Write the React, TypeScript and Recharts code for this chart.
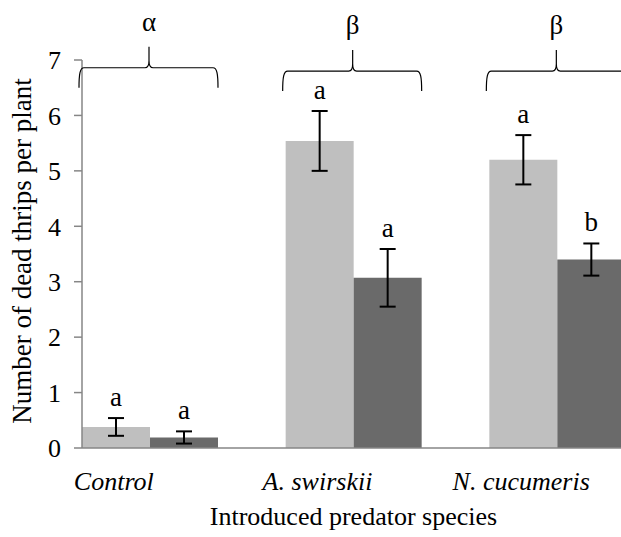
import React from 'react';
import { BarChart, Bar, XAxis, YAxis, ErrorBar, LabelList, Label } from 'recharts';

const CATEGORIES = ['Control', 'A. swirskii', 'N. cucumeris'];
const LIGHT = [0.38, 5.54, 5.2];
const LIGHT_ERR = [0.16, 0.54, 0.445];
const DARK = [0.19, 3.07, 3.4];
const DARK_ERR = [0.11, 0.52, 0.29];
const LIGHT_LETTERS = ['a', 'a', 'a'];
const DARK_LETTERS = ['a', 'a', 'b'];
const GROUP_LETTERS = ['α', 'β', 'β'];
const GROUP_LEVEL = [6.86, 6.8, 6.8];
const Y_TICKS = [0, 1, 2, 3, 4, 5, 6, 7];

const data = CATEGORIES.map((name, i) => ({
  name,
  light: LIGHT[i],
  lightErr: LIGHT_ERR[i],
  dark: DARK[i],
  darkErr: DARK_ERR[i],
}));

const FONT = 'Liberation Serif';
const AXIS_GRAY = '#868686';

function box(props: any) {
  const vb = props.viewBox || props;
  return { x: Number(vb.x), y: Number(vb.y), width: Number(vb.width), height: Number(vb.height) };
}

// significance letter above each error bar
const letterLabel = (values: number[], errs: number[], letters: string[]) => (props: any) => {
  const { x, y, width, height } = box(props);
  const i = props.index;
  const base = y + height;
  const ppu = height / values[i];
  const errTop = base - (values[i] + errs[i]) * ppu;
  return (
    <text key={`l-${i}`} x={x + width / 2} y={errTop - 12} textAnchor="middle" style={{ fontSize: 27, fontFamily: FONT }} fill="#000">
      {letters[i]}
    </text>
  );
};

// curly bracket spanning both bars of a group, drawn from the dark bar
const bracketLabel = (props: any) => {
  const { x, y, width, height } = box(props);
  const i = props.index;
  const base = y + height;
  const ppu = height / DARK[i];
  const yH = base - GROUP_LEVEL[i] * ppu;
  const L = x - width - 3;
  const R = x + width;
  const C = x - 1;
  const d =
    `M${L},${yH + 20} C${L},${yH + 6} ${L + 1},${yH} ${L + 5},${yH} L${C - 4},${yH} ` +
    `Q${C},${yH} ${C},${yH - 7} L${C},${yH - 21} M${C},${yH - 7} Q${C},${yH} ${C + 4},${yH} ` +
    `L${R - 5},${yH} C${R - 1},${yH} ${R},${yH + 6} ${R},${yH + 20}`;
  return (
    <g key={`b-${i}`}>
      <path d={d} fill="none" stroke="#000" strokeWidth={1.2} />
      <text x={C} y={yH - 37} textAnchor="middle" style={{ fontSize: 27, fontFamily: FONT }} fill="#000">
        {GROUP_LETTERS[i]}
      </text>
    </g>
  );
};

const CatTick = (props: any) => {
  const { x, y, payload } = props;
  return (
    <text x={x - 36} y={y + 42} textAnchor="middle" style={{ fontSize: 26, fontStyle: 'italic', fontFamily: FONT }} fill="#000">
      {payload.value}
    </text>
  );
};

export default function App() {
  return (
    <div style={{ position: 'absolute', left: 0, top: 0, width: 621, height: 537, overflow: 'hidden', background: '#fff', fontFamily: FONT }}>
      <BarChart
        width={659}
        height={537}
        data={data}
        margin={{ top: 60, right: 0, bottom: 0, left: 0 }}
        barCategoryGap={34}
        barGap={0}
        style={{ fontFamily: FONT }}
      >
        <XAxis
          dataKey="name"
          height={89}
          padding={{ left: -34, right: 0 }}
          axisLine={{ stroke: AXIS_GRAY, strokeWidth: 1.5 }}
          tickLine={false}
          tickSize={0}
          tickMargin={0}
          tick={<CatTick />}
          interval={0}
        >
          <Label
            content={(p: any) => {
              const vb = p.viewBox;
              return (
                <text x={vb.x + vb.width / 2 - 17} y={vb.y + 77} textAnchor="middle" style={{ fontSize: 26, fontFamily: FONT }} fill="#000">
                  Introduced predator species
                </text>
              );
            }}
          />
        </XAxis>
        <YAxis
          width={82}
          domain={[0, 7]}
          ticks={Y_TICKS}
          interval={0}
          axisLine={{ stroke: AXIS_GRAY, strokeWidth: 1.5 }}
          tickLine={{ stroke: AXIS_GRAY, strokeWidth: 1.5 }}
          tickSize={8}
          tickMargin={13}
          tick={{ fontSize: 26, fontFamily: FONT, fill: '#000', style: { fontFamily: FONT } }}
        >
          <Label
            content={(p: any) => {
              const vb = p.viewBox;
              const cy = vb.y + vb.height / 2 - 3;
              return (
                <text x={31} y={cy} transform={`rotate(-90 31 ${cy})`} textAnchor="middle" style={{ fontSize: 27, fontFamily: FONT }} fill="#000">
                  Number of dead thrips per plant
                </text>
              );
            }}
          />
        </YAxis>
        <Bar dataKey="light" fill="#BFBFBF" isAnimationActive={false}>
          <ErrorBar dataKey="lightErr" width={8} stroke="#000" strokeWidth={2} direction="y" />
          <LabelList dataKey="light" content={letterLabel(LIGHT, LIGHT_ERR, LIGHT_LETTERS)} />
        </Bar>
        <Bar dataKey="dark" fill="#6A6A6A" isAnimationActive={false}>
          <ErrorBar dataKey="darkErr" width={8} stroke="#000" strokeWidth={2} direction="y" />
          <LabelList dataKey="dark" content={letterLabel(DARK, DARK_ERR, DARK_LETTERS)} />
          <LabelList dataKey="dark" content={bracketLabel} />
        </Bar>
      </BarChart>
    </div>
  );
}
